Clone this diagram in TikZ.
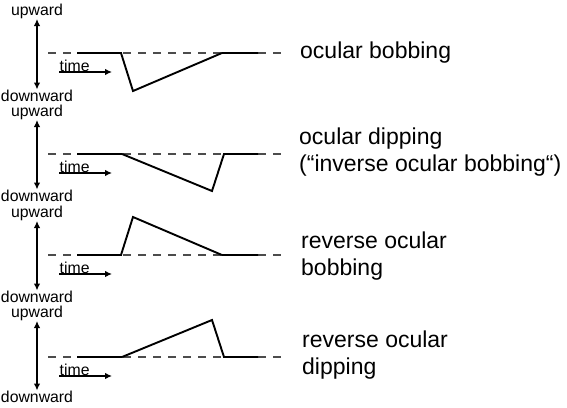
\documentclass[tikz,border=0pt]{standalone}
\usepackage{fontspec}
\setmainfont{Liberation Sans}
\usetikzlibrary{arrows.meta}

\begin{document}
\begin{tikzpicture}[
            x=1pt,
            y=-1pt,
            axis/.style={font=\fontsize{15.8}{18}\selectfont, inner sep=0.5pt},
            level/.style={dash pattern=on 8pt off 7pt, black!70, line width=1.6pt},
            trace/.style={line width=1.9pt},
            updown/.style={{Latex[length=7pt,width=6.5pt]}-{Latex[length=7pt,width=6.5pt]}, line width=1.2pt},
            timearrow/.style={-{Latex[length=7pt,width=6.5pt]}, line width=1.2pt},
            eyetext/.style={font=\fontsize{23}{27.5}\selectfont, align=left, anchor=west, inner sep=0pt}
        ]
        \useasboundingbox (0,0) rectangle (567,407);

        % ocular bobbing
        \coordinate (L1) at (48,53);
        \coordinate (R1) at (287,53);
        \coordinate (T1) at (112,72);
        \node[axis] (up1) at (37,11) {upward};
        \node[axis] (down1) at (37,96) {downward};
        \node[axis, anchor=south west] (time1) at (59,72) {time};
        \draw[updown] (up1) -- (down1);
        \draw[timearrow] (time1.south west) -- (T1);
        \draw[level] (L1) -- (R1);
        \draw[trace] (77,53) -- (121,53) -- (133,91) -- (222,53) -- (258,53);
        \node[eyetext] (name1) at (300,53) {ocular bobbing};

        % ocular dipping
        \coordinate (L2) at (48,154);
        \coordinate (R2) at (287,154);
        \coordinate (T2) at (112,173);
        \node[axis] (up2) at (37,112) {upward};
        \node[axis] (down2) at (37,196) {downward};
        \node[axis, anchor=south west] (time2) at (59,173) {time};
        \draw[updown] (up2) -- (down2);
        \draw[timearrow] (time2.south west) -- (T2);
        \draw[level] (L2) -- (R2);
        \draw[trace] (77,154) -- (122,154) -- (212,191) -- (224,154) -- (258,154);
        \node[eyetext] (name2) at (299,152) {ocular dipping\\(“inverse ocular bobbing“)};

        % reverse ocular bobbing
        \coordinate (L3) at (48,255);
        \coordinate (R3) at (287,255);
        \coordinate (T3) at (112,274);
        \node[axis] (up3) at (37,213) {upward};
        \node[axis] (down3) at (37,297) {downward};
        \node[axis, anchor=south west] (time3) at (59,274) {time};
        \draw[updown] (up3) -- (down3);
        \draw[timearrow] (time3.south west) -- (T3);
        \draw[level] (L3) -- (R3);
        \draw[trace] (77,255) -- (121,255) -- (133,217) -- (222,255) -- (258,255);
        \node[eyetext] (name3) at (301,256) {reverse ocular\\bobbing};

        % reverse ocular dipping
        \coordinate (L4) at (48,357);
        \coordinate (R4) at (287,357);
        \coordinate (T4) at (112,376);
        \node[axis] (up4) at (37,313) {upward};
        \node[axis] (down4) at (37,397) {downward};
        \node[axis, anchor=south west] (time4) at (59,376) {time};
        \draw[updown] (up4) -- (down4);
        \draw[timearrow] (time4.south west) -- (T4);
        \draw[level] (L4) -- (R4);
        \draw[trace] (77,357) -- (122,357) -- (212,320) -- (224,357) -- (258,357);
        \node[eyetext] (name4) at (302,355) {reverse ocular\\dipping};
    \end{tikzpicture}
\end{document}
